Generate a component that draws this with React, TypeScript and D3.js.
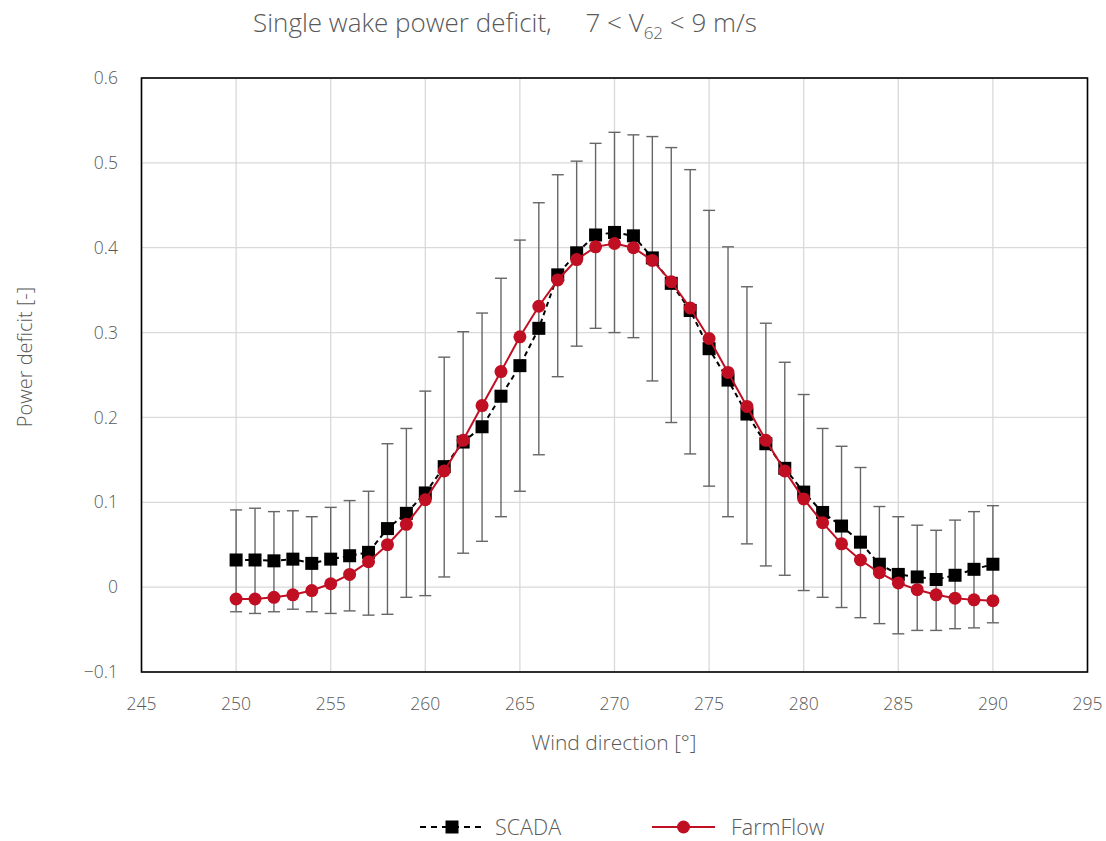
import React from "react";
import * as d3 from "d3";

const directions = [250,251,252,253,254,255,256,257,258,259,260,261,262,263,264,265,266,267,268,269,270,271,272,273,274,275,276,277,278,279,280,281,282,283,284,285,286,287,288,289,290];
const scada = [0.032,0.032,0.031,0.033,0.028,0.033,0.037,0.041,0.069,0.087,0.111,0.142,0.171,0.189,0.225,0.261,0.305,0.368,0.394,0.415,0.418,0.414,0.388,0.358,0.326,0.281,0.244,0.204,0.169,0.140,0.112,0.088,0.072,0.053,0.027,0.015,0.012,0.009,0.014,0.021,0.027];
const farmflow = [-0.014,-0.014,-0.012,-0.009,-0.004,0.004,0.015,0.030,0.050,0.074,0.103,0.137,0.173,0.214,0.254,0.295,0.331,0.362,0.386,0.401,0.405,0.400,0.385,0.360,0.329,0.293,0.253,0.213,0.173,0.137,0.104,0.076,0.051,0.032,0.017,0.005,-0.003,-0.009,-0.013,-0.015,-0.016];
const errUpper = [0.091,0.093,0.089,0.090,0.083,0.094,0.102,0.113,0.169,0.187,0.231,0.271,0.301,0.323,0.364,0.409,0.453,0.486,0.502,0.523,0.536,0.533,0.531,0.518,0.492,0.444,0.401,0.354,0.311,0.265,0.227,0.187,0.166,0.141,0.095,0.083,0.073,0.067,0.079,0.089,0.096];
const errLower = [-0.029,-0.031,-0.029,-0.026,-0.029,-0.031,-0.028,-0.033,-0.032,-0.012,-0.010,0.012,0.040,0.054,0.083,0.113,0.156,0.248,0.284,0.305,0.300,0.294,0.243,0.194,0.157,0.119,0.083,0.051,0.025,0.014,-0.004,-0.012,-0.024,-0.036,-0.043,-0.055,-0.051,-0.051,-0.049,-0.048,-0.042];
const xTicks = [245,250,255,260,265,270,275,280,285,290,295];
const yTicks = [-0.1,0,0.1,0.2,0.3,0.4,0.5,0.6];
const seriesNames = ["SCADA", "FarmFlow"];

const FONT = "'Open Sans', 'Segoe UI', sans-serif";
const TEXT = "#595959";
const RED = "#C00F23";

export default function App() {
  const W = 1106, H = 841;
  const left = 141.5, right = 1087.5, top = 78, bottom = 672;
  const x = d3.scaleLinear().domain([245, 295]).range([left, right]);
  const y = d3.scaleLinear().domain([-0.1, 0.6]).range([bottom, top]);
  const line = d3.line<number>().x((_, i) => x(directions[i])).y((d) => y(d));
  const capW = 6;

  return (
    <svg width={W} height={H} style={{ position: "absolute", left: 0, top: 0, background: "#fff" }} fontFamily={FONT}>
      <rect x={0} y={0} width={W} height={H} fill="#fff" />
      {yTicks.map((t) => (
        <line key={"gy" + t} x1={left} x2={right} y1={y(t)} y2={y(t)} stroke="#d9d9d9" strokeWidth={1.3} />
      ))}
      {xTicks.map((t) => (
        <line key={"gx" + t} x1={x(t)} x2={x(t)} y1={top} y2={bottom} stroke="#d9d9d9" strokeWidth={1.3} />
      ))}
      <rect x={left} y={top} width={right - left} height={bottom - top} fill="none" stroke="#000" strokeWidth={1.6} />
      {yTicks.map((t) => (
        <text key={"ly" + t} x={118} y={y(t)} dy="0.35em" textAnchor="end" fontSize={17.5} fill={TEXT} fontWeight={300}>
          {t === 0 ? "0" : d3.format(".1f")(t)}
        </text>
      ))}
      {xTicks.map((t) => (
        <text key={"lx" + t} x={x(t)} y={704} dy="0.35em" textAnchor="middle" fontSize={17.5} fill={TEXT} fontWeight={300}>
          {t}
        </text>
      ))}
      {directions.map((d, i) => (
        <g key={"e" + d} stroke="#666" strokeWidth={1.4}>
          <line x1={x(d)} x2={x(d)} y1={y(errUpper[i])} y2={y(errLower[i])} />
          <line x1={x(d) - capW} x2={x(d) + capW} y1={y(errUpper[i])} y2={y(errUpper[i])} />
          <line x1={x(d) - capW} x2={x(d) + capW} y1={y(errLower[i])} y2={y(errLower[i])} />
        </g>
      ))}
      <path d={line(scada) || ""} fill="none" stroke="#000" strokeWidth={2} strokeDasharray="5,4" />
      {scada.map((v, i) => (
        <rect key={"s" + i} x={x(directions[i]) - 6.5} y={y(v) - 6.5} width={13} height={13} fill="#000" />
      ))}
      <path d={line(farmflow) || ""} fill="none" stroke={RED} strokeWidth={2} />
      {farmflow.map((v, i) => (
        <circle key={"f" + i} cx={x(directions[i])} cy={y(v)} r={6.5} fill={RED} />
      ))}
      <text x={505} y={32} textAnchor="middle" fontSize={26} fill={TEXT} fontWeight={300}>
        Single wake power deficit,{"\u00a0\u00a0\u00a0\u00a0\u00a07 < V"}
        <tspan fontSize={17} dy={7}>62</tspan>
        <tspan dy={-7}>{" < 9 m/s"}</tspan>
      </text>
      <text x={614} y={743} dy="0.35em" textAnchor="middle" fontSize={21} fill={TEXT} fontWeight={300}>
        Wind direction [°]
      </text>
      <text transform={`translate(25,357) rotate(-90)`} dy="0.35em" textAnchor="middle" fontSize={20} fill={TEXT} fontWeight={300}>
        Power deficit [-]
      </text>
      <g>
        <line x1={420} x2={484} y1={827} y2={827} stroke="#000" strokeWidth={2} strokeDasharray="6,5" />
        <rect x={445.5} y={820.5} width={13} height={13} fill="#000" />
        <text x={495} y={827} dy="0.35em" fontSize={21.5} fill={TEXT} fontWeight={300}>{seriesNames[0]}</text>
        <line x1={652} x2={715} y1={827} y2={827} stroke={RED} strokeWidth={2} />
        <circle cx={683.5} cy={827} r={6.5} fill={RED} />
        <text x={731} y={827} dy="0.35em" fontSize={21.5} fill={TEXT} fontWeight={300}>{seriesNames[1]}</text>
      </g>
    </svg>
  );
}
